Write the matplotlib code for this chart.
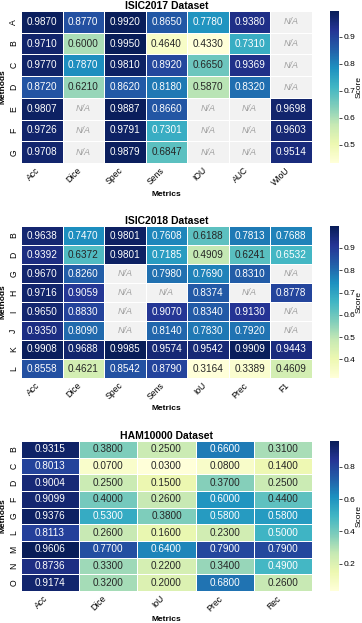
import numpy as np
import pandas as pd
import matplotlib
matplotlib.use("Agg")
import matplotlib.pyplot as plt
from matplotlib.colors import ListedColormap
import seaborn as sns

plt.rcParams['font.family'] = ['Liberation Sans', 'DejaVu Sans']

nan = np.nan

# ISIC2017
methods_17 = ['A', 'B', 'C', 'D', 'E', 'F', 'G']
metrics_17 = ['Acc', 'Dice', 'Spec', 'Sens', 'IOU', 'AUC', 'WIoU']
vals_17 = [
    [0.9870, 0.8770, 0.9920, 0.8650, 0.7780, 0.9380, nan],
    [0.9710, 0.6000, 0.9950, 0.4640, 0.4330, 0.7310, nan],
    [0.9770, 0.7870, 0.9810, 0.8920, 0.6650, 0.9369, nan],
    [0.8720, 0.6210, 0.8620, 0.8180, 0.5870, 0.8320, nan],
    [0.9807, nan, 0.9887, 0.8660, nan, nan, 0.9698],
    [0.9726, nan, 0.9791, 0.7301, nan, nan, 0.9603],
    [0.9708, nan, 0.9879, 0.6847, nan, nan, 0.9514],
]

# ISIC2018
methods_18 = ['B', 'D', 'G', 'H', 'I', 'J', 'K', 'L']
metrics_18 = ['Acc', 'Dice', 'Spec', 'Sens', 'IoU', 'Prec', 'F1']
vals_18 = [
    [0.9638, 0.7470, 0.9801, 0.7608, 0.6188, 0.7813, 0.7688],
    [0.9392, 0.6372, 0.9801, 0.7185, 0.4909, 0.6241, 0.6532],
    [0.9670, 0.8260, nan, 0.7980, 0.7690, 0.8310, nan],
    [0.9716, 0.9059, nan, nan, 0.8374, nan, 0.8778],
    [0.9650, 0.8830, nan, 0.9070, 0.8340, 0.9130, nan],
    [0.9350, 0.8090, nan, 0.8140, 0.7830, 0.7920, nan],
    [0.9908, 0.9688, 0.9985, 0.9574, 0.9542, 0.9909, 0.9443],
    [0.8558, 0.4621, 0.8542, 0.8790, 0.3164, 0.3389, 0.4609],
]

# HAM10000
methods_ham = ['B', 'C', 'D', 'F', 'G', 'L', 'M', 'N', 'O']
metrics_ham = ['Acc', 'Dice', 'IoU', 'Prec', 'Rec']
vals_ham = [
    [0.9315, 0.38, 0.25, 0.66, 0.31],
    [0.8013, 0.07, 0.03, 0.08, 0.14],
    [0.9004, 0.25, 0.15, 0.37, 0.25],
    [0.9099, 0.40, 0.26, 0.60, 0.44],
    [0.9376, 0.53, 0.38, 0.58, 0.58],
    [0.8113, 0.26, 0.16, 0.23, 0.50],
    [0.9606, 0.77, 0.64, 0.79, 0.79],
    [0.8736, 0.33, 0.22, 0.34, 0.49],
    [0.9174, 0.32, 0.20, 0.68, 0.26],
]

panels = [
    ('ISIC2017 Dataset', methods_17, metrics_17, vals_17),
    ('ISIC2018 Dataset', methods_18, metrics_18, vals_18),
    ('HAM10000 Dataset', methods_ham, metrics_ham, vals_ham),
]

W, H = 362, 623
fig = plt.figure(figsize=(W / 100, H / 100), dpi=100)

# (top px, bottom px) of each heatmap
boxes = [(11, 163), (226, 378), (441, 591)]
left, right = 21, 312
cb_left, cb_w = 330, 9

for (title, rows, cols, vals), (top, bot) in zip(panels, boxes):
    ax = fig.add_axes([left / W, 1 - bot / H, (right - left) / W, (bot - top) / H])
    cax = fig.add_axes([cb_left / W, 1 - bot / H, cb_w / W, (bot - top) / H])
    df = pd.DataFrame(vals, index=rows, columns=cols)
    na = df.isna()

    # grey background cells for missing values
    sns.heatmap(na.astype(float), mask=~na, cmap=ListedColormap(['#f2f2f2']),
                cbar=False, linewidths=0.6, linecolor='white', ax=ax)
    sns.heatmap(df, annot=True, fmt='.4f', cmap='YlGnBu', linewidths=0.6,
                linecolor='white', ax=ax, cbar_ax=cax,
                annot_kws={'fontsize': 7.2}, cbar_kws={'label': 'Score'})
    for i, j in zip(*np.where(na.values)):
        ax.text(j + 0.5, i + 0.5, 'N/A', ha='center', va='center',
                fontsize=6.5, style='italic', color='#a0a0a0')

    ax.set_title(title, fontsize=7.5, fontweight='bold', pad=1.5)
    ax.set_xlabel('Metrics', fontsize=6, fontweight='bold', labelpad=2.5)
    ax.set_ylabel('Methods', fontsize=6, fontweight='bold', labelpad=2)
    ax.set_xticklabels(cols, rotation=45, ha='right', fontsize=6.2)
    ax.set_yticklabels(rows, rotation=90, va='center', fontsize=6.2)
    ax.tick_params(length=0, pad=2)

    cb = ax.collections[-1].colorbar
    cb.outline.set_visible(False)
    cax.tick_params(labelsize=6, length=2, width=0.5, pad=1)
    cax.set_ylabel('Score', fontsize=6, labelpad=0.5)

fig.savefig('out.png', dpi=100)
